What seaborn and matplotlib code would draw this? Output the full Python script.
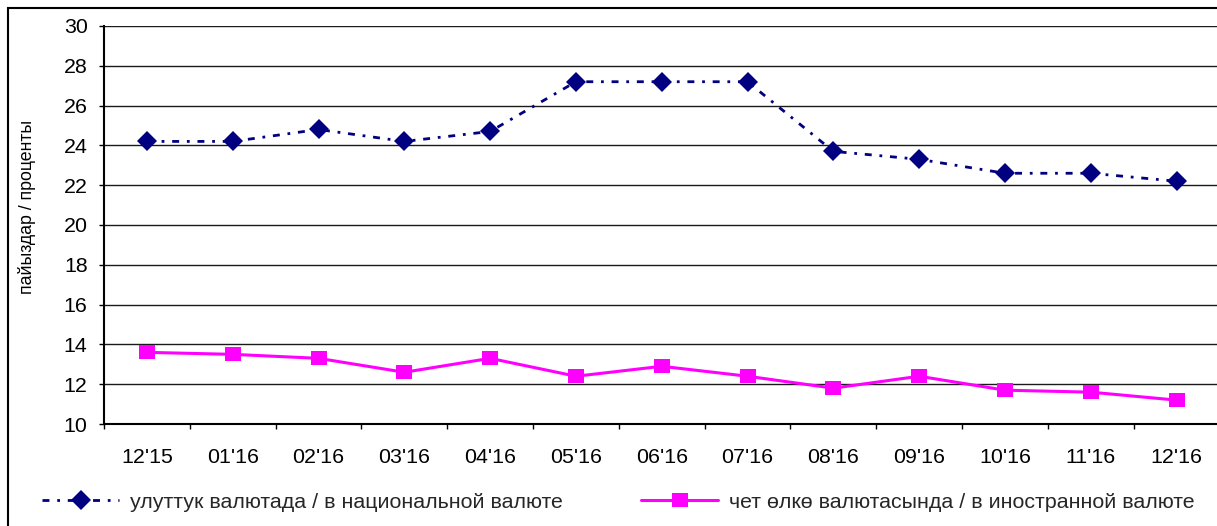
import numpy as np
import pandas as pd
import matplotlib
matplotlib.use("Agg")
import matplotlib.pyplot as plt
from matplotlib.patches import Rectangle
import seaborn as sns

# Data
months = ["12'15", "01'16", "02'16", "03'16", "04'16", "05'16", "06'16",
          "07'16", "08'16", "09'16", "10'16", "11'16", "12'16"]
national = [24.2, 24.2, 24.8, 24.2, 24.7, 27.2, 27.2, 27.2, 23.7, 23.3, 22.6, 22.6, 22.2]
foreign = [13.6, 13.5, 13.3, 12.6, 13.3, 12.4, 12.9, 12.4, 11.8, 12.4, 11.7, 11.6, 11.2]

label_national = "улуттук валютада / в национальной валюте"
label_foreign = "чет өлкө валютасында / в иностранной валюте"
y_title = "пайыздар / проценты"

df = pd.DataFrame({"month": months, "national": national, "foreign": foreign})

sns.set_theme(style="white")
plt.rcParams["font.family"] = ["Liberation Sans", "DejaVu Sans"]

W, H = 1217, 526
FS = 15.4
fig = plt.figure(figsize=(W / 100, H / 100), dpi=100)
ax = fig.add_axes([104 / W, (H - 424) / H, (1219.5 - 104) / W, 398 / H])

# square marker is a bit wider than tall in the original
rect_marker = [(-1, -0.8), (1, -0.8), (1, 0.8), (-1, 0.8), (-1, -0.8)]

sns.lineplot(data=df, x="month", y="national", sort=False, errorbar=None, ax=ax,
             color="#000080", linewidth=2, linestyle=(0, (2.5, 2.8, 1, 2.8)),
             marker="D", markersize=9.8, markeredgewidth=0, markerfacecolor="#000080")
sns.lineplot(data=df, x="month", y="foreign", sort=False, errorbar=None, ax=ax,
             color="#FF00FF", linewidth=2.2,
             marker=rect_marker, markersize=12, markeredgewidth=0, markerfacecolor="#FF00FF")

ax.set_xlim(-0.5, len(months) - 0.5)
ax.set_ylim(10, 30)
ax.set_yticks(np.arange(10, 31, 2))
ax.set_xticks(np.arange(-0.5, len(months), 1), minor=True)
ax.yaxis.grid(True, color="#1a1a1a", linewidth=1.0)
ax.xaxis.grid(False)
ax.set_axisbelow(True)

for side in ["top", "right"]:
    ax.spines[side].set_visible(False)
for side in ["left", "bottom"]:
    ax.spines[side].set_color("black")
    ax.spines[side].set_linewidth(1.5)

ax.tick_params(axis="y", which="major", left=True, length=3.6, width=1, color="black",
               pad=8.2, labelsize=FS, labelcolor="black")
ax.tick_params(axis="x", which="major", bottom=True, length=0, pad=17.5,
               labelsize=FS, labelcolor="black")
ax.tick_params(axis="x", which="minor", bottom=True, length=3.6, width=1, color="black")

ax.set_xlabel("")
ax.set_ylabel(y_title, fontsize=12.8, color="black")
ax.yaxis.set_label_coords(-0.0614, 0.545)

# legend entries below the plot, each pinned to its own spot
h_nat, h_for = ax.get_lines()[0], ax.get_lines()[1]
leg_y = (H - 502) / H
fig.legend(handles=[h_nat], labels=[label_national], loc="center left",
           bbox_to_anchor=(42 / W, leg_y), frameon=False, fontsize=FS,
           handlelength=3.6, handletextpad=0.5, borderpad=0, borderaxespad=0)
fig.legend(handles=[h_for], labels=[label_foreign], loc="center left",
           bbox_to_anchor=(641 / W, leg_y), frameon=False, fontsize=FS,
           handlelength=3.6, handletextpad=0.5, borderpad=0, borderaxespad=0)

# outer chart border (right and bottom edges lie outside the picture)
fig.add_artist(Rectangle((7.5 / W, -0.1), 1.2, (H - 7.5) / H + 0.1,
                         transform=fig.transFigure, fill=False,
                         edgecolor="black", linewidth=1.5))

fig.savefig("out.png", dpi=100)
